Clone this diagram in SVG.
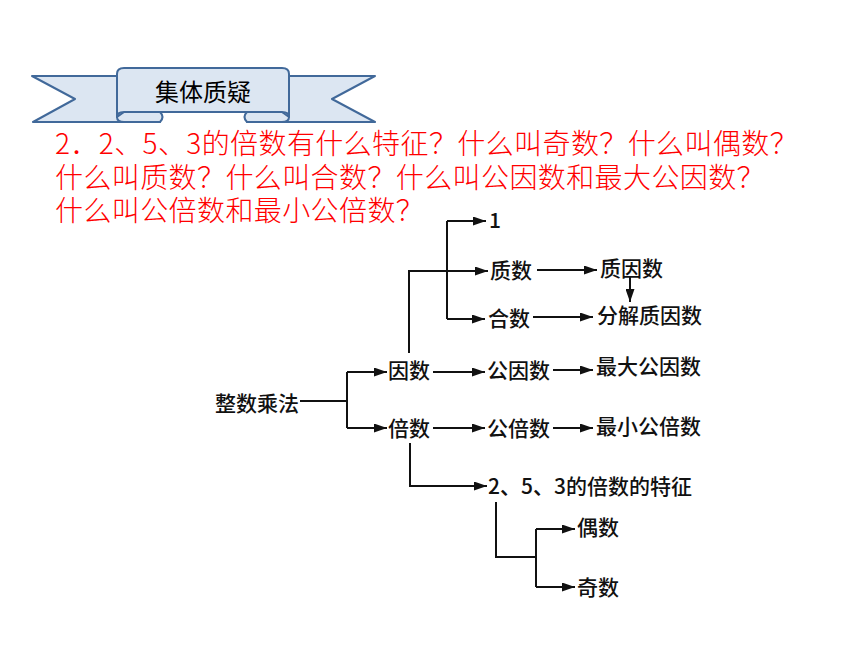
<svg xmlns="http://www.w3.org/2000/svg" width="860" height="645" viewBox="0 0 860 645">
<style>
.rb{fill:#dce6f2;stroke:#41699a;stroke-width:2;stroke-linejoin:round}
.q{font-family:"Noto Sans CJK SC","Liberation Sans",sans-serif;font-size:28px;font-weight:300;fill:#ff0000;letter-spacing:0.4px}
.t{font-family:"Noto Sans CJK SC","Liberation Serif",serif;font-size:21px;font-weight:500;fill:#111}
.c{fill:none;stroke:#111;stroke-width:2}
.a{marker-end:url(#ah)}
</style>
<defs>
<marker id="ah" markerUnits="userSpaceOnUse" markerWidth="13" markerHeight="9" refX="13" refY="4.5" orient="auto">
<path d="M0,0 L13,4.5 L0,9 z" fill="#111"/>
</marker>
</defs>
<rect width="860" height="645" fill="#fff"/>

<g id="banner">
<path class="rb" d="M130,76 L32,76 L75,99 L33,122 L160,122 L160,112 L130,112 Z"/>
<path class="rb" d="M276,76 L375,76 L332,99 L375,122 L247,122 L247,112 L276,112 Z"/>
<path class="rb" d="M124,112 L160,112 Q165,117 160,122 L124,122 Q117,122 117,117 Z"/>
<path class="rb" d="M282,112 L247,112 Q242,117 247,122 L282,122 Q289,122 289,117 Z"/>
<path class="rb" d="M117,74 Q117,68 124,68 L282,68 Q289,68 289,74 L289,117 Q289,112 282,112 L124,112 Q117,112 117,117 Z"/>
<text x="203" y="101" text-anchor="middle" font-family="Noto Sans CJK SC,sans-serif" font-size="24" fill="#000">集体质疑</text>
</g>

<g id="question">
<text class="q" x="55" y="154">2．2、5、3的倍数有什么特征？什么叫奇数？什么叫偶数？</text>
<text class="q" x="55" y="188">什么叫质数？什么叫合数？什么叫公因数和最大公因数？</text>
<text class="q" x="55" y="221">什么叫公倍数和最小公倍数？</text>
</g>

<g id="connectors">
<path class="c" d="M300,401 H347 M347,372 V428"/>
<path class="c a" d="M347,372 H387"/>
<path class="c a" d="M347,428 H387"/>
<path class="c a" d="M409,353 V271 H488"/>
<path class="c" d="M447,221 V319"/>
<path class="c a" d="M447,221 H486"/>
<path class="c a" d="M447,319 H485"/>
<path class="c a" d="M537,270 H597"/>
<path class="c a" d="M630,277 V302"/>
<path class="c a" d="M533,317 H593"/>
<path class="c a" d="M433,372 H485"/>
<path class="c a" d="M553,370 H593"/>
<path class="c a" d="M433,428 H485"/>
<path class="c a" d="M553,428 H593"/>
<path class="c a" d="M410,443 V486 H487"/>
<path class="c" d="M496,502 V557 H536 M536,529 V587"/>
<path class="c a" d="M536,529 H575"/>
<path class="c a" d="M536,587 H575"/>
</g>

<g id="n-zhengshu"><text class="t" x="215" y="411">整数乘法</text></g>
<g id="n-yinshu"><text class="t" x="388" y="378">因数</text></g>
<g id="n-beishu"><text class="t" x="388" y="436">倍数</text></g>
<g id="n-one"><text class="t" x="489" y="228" font-size="17">1</text></g>
<g id="n-zhishu"><text class="t" x="490" y="278">质数</text></g>
<g id="n-heshu"><text class="t" x="488" y="326">合数</text></g>
<g id="n-zhiyinshu"><text class="t" x="600" y="276">质因数</text></g>
<g id="n-fenjie"><text class="t" x="597" y="323">分解质因数</text></g>
<g id="n-gongyinshu"><text class="t" x="487" y="378">公因数</text></g>
<g id="n-zuida"><text class="t" x="596" y="374">最大公因数</text></g>
<g id="n-gongbeishu"><text class="t" x="487" y="436">公倍数</text></g>
<g id="n-zuixiao"><text class="t" x="596" y="434">最小公倍数</text></g>
<g id="n-tezheng"><text class="t" x="488" y="494">2、5、3的倍数的特征</text></g>
<g id="n-oushu"><text class="t" x="577" y="535">偶数</text></g>
<g id="n-jishu"><text class="t" x="577" y="595">奇数</text></g>
</svg>
